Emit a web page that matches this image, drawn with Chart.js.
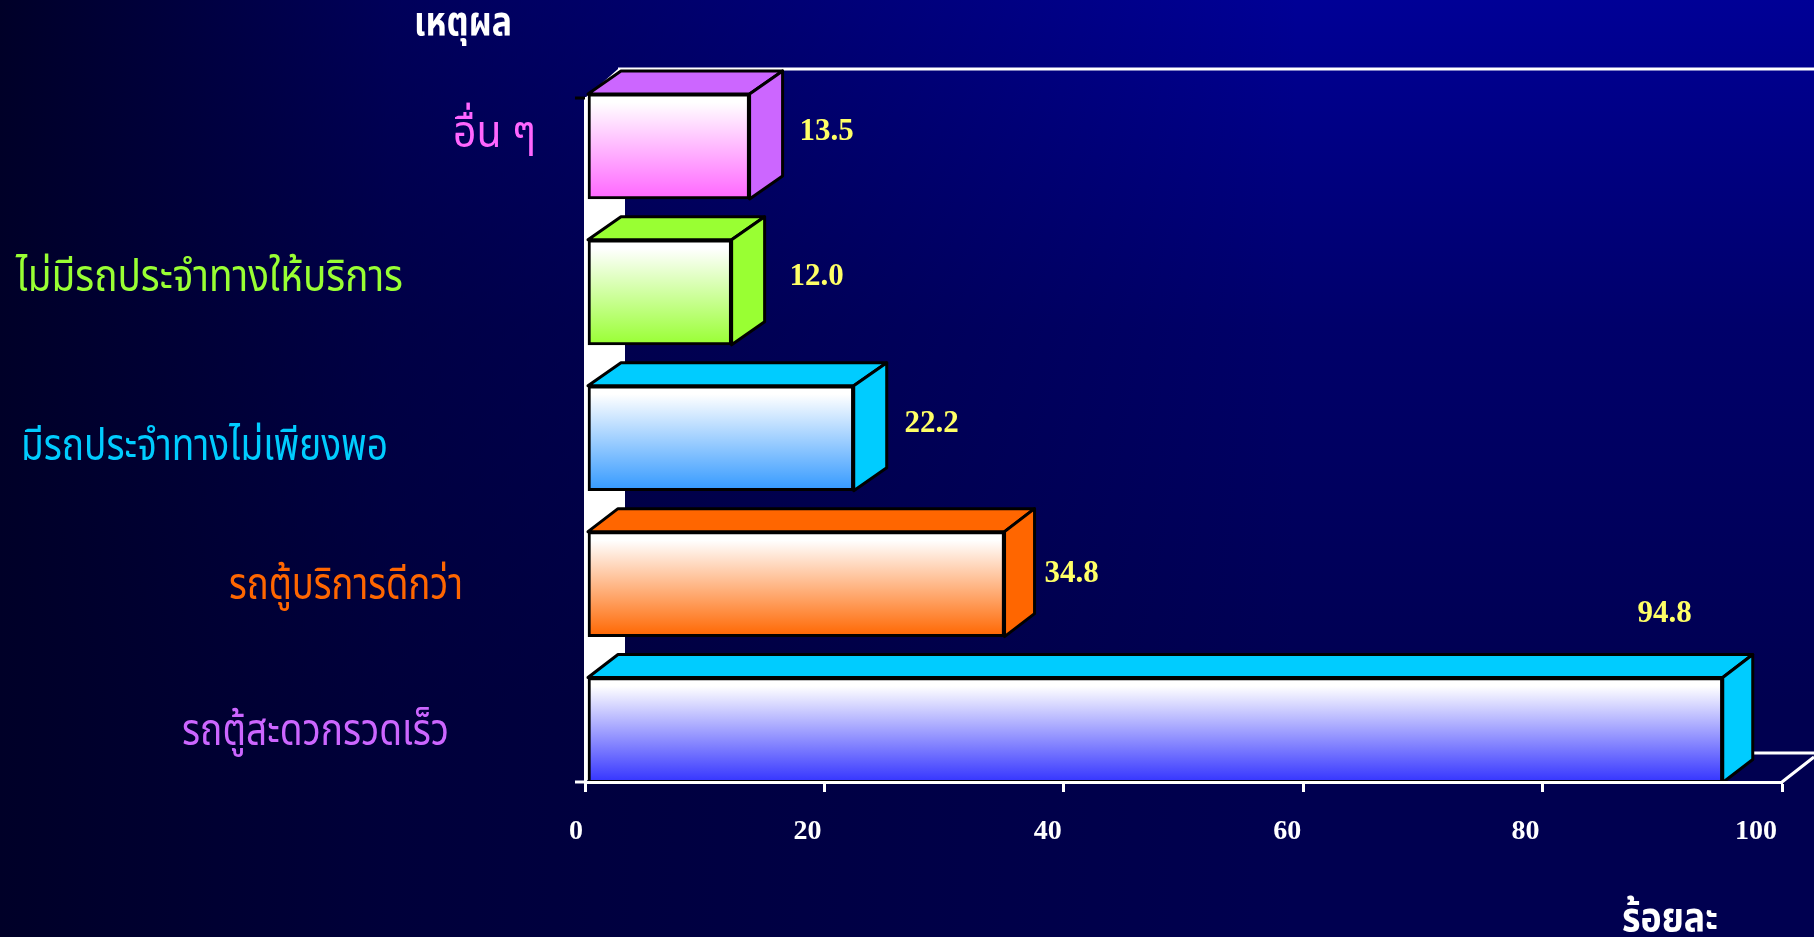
<!DOCTYPE html>
<html>
<head>
<meta charset="utf-8">
<title>เหตุผล</title>
<script src="https://cdn.jsdelivr.net/npm/chart.js@4"></script>
<style>
    html, body { margin: 0; padding: 0; width: 1814px; height: 937px; overflow: hidden; background: #000033; }
    #wrap { width: 1814px; height: 937px; }
</style>
</head>
<body>
<div id="wrap"><canvas id="reasonChart"></canvas></div>
<script>
const categories = ['อื่น ๆ', 'ไม่มีรถประจำทางให้บริการ', 'มีรถประจำทางไม่เพียงพอ', 'รถตู้บริการดีกว่า', 'รถตู้สะดวกรวดเร็ว'];
const percents = [13.5, 12.0, 22.2, 34.8, 94.8];
const xTickValues = [0, 20, 40, 60, 80, 100];

const yTitle = 'เหตุผล';
const xTitle = 'ร้อยละ';

// colours per bar
const labelColors = ['#FF66FF', '#99FF33', '#00CCFF', '#FF6600', '#CC66FF'];
const frontColors = ['#FF66FF', '#99FF33', '#3399FF', '#FF6600', '#3333FF'];
const faceColors = ['#CC66FF', '#99FF33', '#00CCFF', '#FF6600', '#00CCFF'];

// hand placed text, the labels in the original are free text boxes
const catLabelBox = [[453, 536, 135], [16, 403, 279], [21, 388, 448], [229, 463, 587], [182, 449, 733]];
const valueNudge = [[77, -14], [85, -15], [78, -14], [67, -10], [-58, -116]];
const xLabelNudge = [-9, -17, -16, -16, -17, -26];

const THAI_FONT = '"Liberation Serif", "Noto Sans Thai", "Noto Serif Thai", "DejaVu Serif", serif';
const depthX = [33, 33, 33, 30, 30];
const DEPTH_Y = 23;
const BAR_HEIGHT = 105;

const bgPlugin = {
    id: 'bgPlugin',
    beforeDraw(chart) {
        const c = chart.ctx;
        const v = c.createLinearGradient(0, 0, 0, chart.height);
        v.addColorStop(0, '#000096');
        v.addColorStop(0.35, '#00006A');
        v.addColorStop(0.75, '#000050');
        v.addColorStop(1, '#000050');
        const h = c.createLinearGradient(0, 0, 1300, 0);
        h.addColorStop(0, 'rgba(0,0,40,1)');
        h.addColorStop(0.3, 'rgba(0,0,40,0.55)');
        h.addColorStop(1, 'rgba(0,0,40,0)');
        c.save();
        c.fillStyle = v;
        c.fillRect(0, 0, chart.width, chart.height);
        c.fillStyle = h;
        c.fillRect(0, 0, chart.width, chart.height);
        c.restore();
    }
};

// the 3d box behind the bars and the side + top faces of every bar
const boxPlugin = {
    id: 'boxPlugin',
    beforeDatasetsDraw(chart) {
        const c = chart.ctx, a = chart.chartArea;
        c.save();
        c.fillStyle = '#FFFFFF';
        c.beginPath();
        c.moveTo(a.left, a.top);
        c.lineTo(a.left + 33, a.top - 29);
        c.lineTo(a.left + 40, a.top - 29);
        c.lineTo(a.left + 40, a.bottom - 29);
        c.lineTo(a.left, a.bottom);
        c.closePath();
        c.fill();

        c.strokeStyle = '#FFFFFF';
        c.lineWidth = 3;
        c.beginPath();
        c.moveTo(a.left + 33, a.top - 29);
        c.lineTo(chart.width, a.top - 29);
        c.moveTo(a.left + 33, a.bottom - 29);
        c.lineTo(chart.width, a.bottom - 29);
        c.moveTo(a.right, a.bottom);
        c.lineTo(chart.width, a.bottom - 25);
        c.stroke();

        c.strokeStyle = '#000000';
        c.beginPath();
        c.moveTo(a.left - 10, a.top);
        c.lineTo(a.left, a.top);
        c.stroke();

        c.strokeStyle = '#FFFFFF';
        c.beginPath();
        c.moveTo(a.left - 10, a.bottom);
        c.lineTo(a.left, a.bottom);
        c.stroke();

        const bars = chart.getDatasetMeta(0).data;
        c.lineWidth = 3;
        c.lineJoin = 'round';
        c.strokeStyle = '#000000';
        bars.forEach(function(bar, i) {
            const top = bar.y - bar.height / 2, bottom = bar.y + bar.height / 2;
            const left = bar.base, right = bar.x, dx = depthX[i];
            c.fillStyle = faceColors[i];
            c.beginPath();
            c.moveTo(left, top);
            c.lineTo(left + dx, top - DEPTH_Y);
            c.lineTo(right + dx, top - DEPTH_Y);
            c.lineTo(right, top);
            c.closePath();
            c.fill();
            c.stroke();
            c.beginPath();
            c.moveTo(right, top);
            c.lineTo(right + dx, top - DEPTH_Y);
            c.lineTo(right + dx, bottom - DEPTH_Y);
            c.lineTo(right, bottom);
            c.closePath();
            c.fill();
            c.stroke();
        });
        c.restore();
    }
};

const textPlugin = {
    id: 'textPlugin',
    afterDraw(chart) {
        const c = chart.ctx, x = chart.scales.x;
        const bars = chart.getDatasetMeta(0).data;
        c.save();
        c.textAlign = 'center';
        c.textBaseline = 'middle';

        // รายการ
        c.font = '44px ' + THAI_FONT;
        categories.forEach(function(name, i) {
            const b = catLabelBox[i];
            c.fillStyle = labelColors[i];
            c.fillText(name, (b[0] + b[1]) / 2, b[2], b[1] - b[0]);
        });

        // ค่า
        c.font = 'bold 31px "Liberation Serif", serif';
        c.fillStyle = '#FFFF66';
        percents.forEach(function(v, i) {
            c.fillText(v.toFixed(1), bars[i].x + valueNudge[i][0], bars[i].y + valueNudge[i][1]);
        });

        c.font = 'bold 28px "Liberation Serif", serif';
        c.fillStyle = '#FFFFFF';
        xTickValues.forEach(function(v, i) {
            c.fillText(String(v), x.getPixelForValue(v) + xLabelNudge[i], 832);
        });

        c.font = 'bold 40px ' + THAI_FONT;
        c.fillText(yTitle, 463, 25, 98);
        c.fillText(xTitle, 1670, 921, 96);
        c.restore();
    }
};

const ctx = document.getElementById('reasonChart').getContext('2d');

function frontGradient(context) {
    const y = context.chart.scales.y;
    const mid = y ? y.getPixelForValue(context.dataIndex) : NaN;
    if (!isFinite(mid)) return frontColors[context.dataIndex];
    const g = context.chart.ctx.createLinearGradient(0, mid - BAR_HEIGHT / 2, 0, mid + BAR_HEIGHT / 2);
    g.addColorStop(0, '#FFFFFF');
    g.addColorStop(0.08, '#FFFFFF');
    g.addColorStop(1, frontColors[context.dataIndex]);
    return g;
}

new Chart(ctx, {
    type: 'bar',
    data: {
        datasets: [{
            xAxisID: 'xBar',
            data: percents.map(function(v, i) { return { x: v, y: i }; }),
            backgroundColor: frontGradient,
            borderColor: '#000000',
            borderWidth: 3,
            borderSkipped: false,
            barThickness: BAR_HEIGHT,
            clip: false
        }]
    },
    options: {
        indexAxis: 'y',
        responsive: true,
        maintainAspectRatio: false,
        animation: false,
        layout: { padding: { left: 585, right: 32, top: 98, bottom: 145 } },
        scales: {
            x: {
                type: 'linear',
                min: 0,
                max: 100,
                afterBuildTicks(axis) { axis.ticks = xTickValues.map(function(v) { return { value: v }; }); },
                ticks: { display: false },
                grid: { drawOnChartArea: false, drawTicks: true, tickLength: 10, tickWidth: 3, tickColor: '#FFFFFF' },
                border: { color: '#FFFFFF', width: 3, z: 1 }
            },
            // bars sit a little right of the axis zero in the 3d box
            xBar: {
                type: 'linear',
                axis: 'x',
                display: false,
                min: -0.25,
                max: 99.75
            },
            y: {
                type: 'linear',
                offset: false,
                reverse: true,
                min: -0.332,
                max: 4.356,
                ticks: { display: false },
                grid: { display: false, drawTicks: false },
                border: { color: '#FFFFFF', width: 3 }
            }
        },
        plugins: { legend: { display: false }, tooltip: { enabled: false } }
    },
    plugins: [bgPlugin, boxPlugin, textPlugin]
});
</script>
</body>
</html>
